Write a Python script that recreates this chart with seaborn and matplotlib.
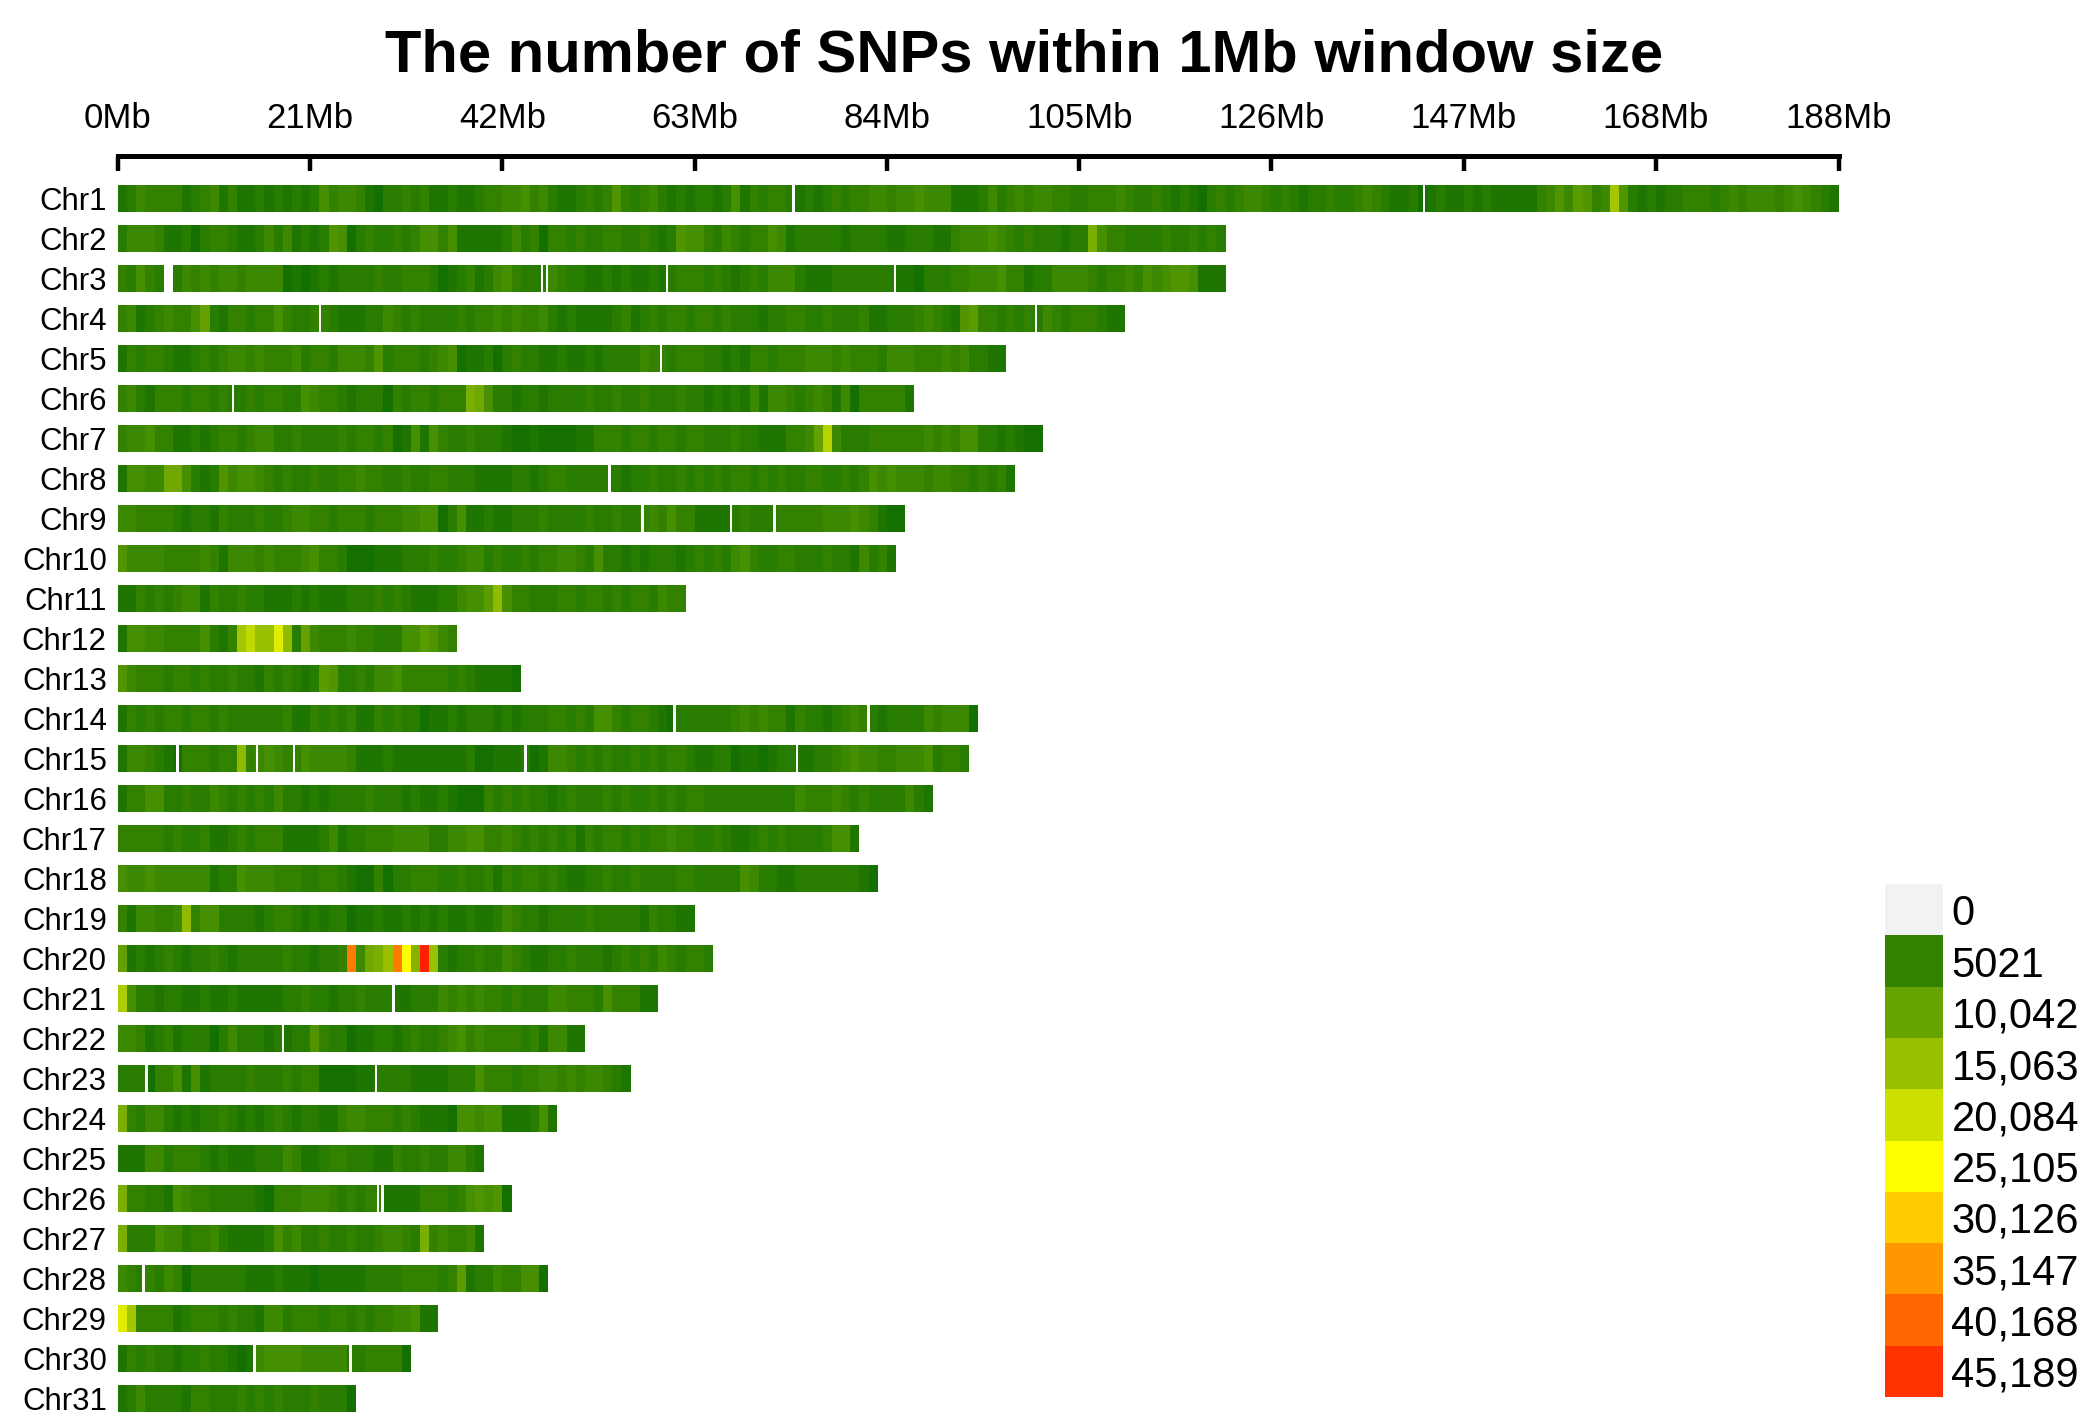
import numpy as np
import matplotlib
matplotlib.use("Agg")
import matplotlib.pyplot as plt
import seaborn as sns
from matplotlib.colors import LinearSegmentedColormap, ListedColormap

# SNP counts per 1 Mb window, one character per window, in thousands of SNPs
# ('0'-'9' = 0-9k, 'a'-'z' = 10k-35k, 'A'-'Z' = 36k-61k)
CODES = "0123456789abcdefghijklmnopqrstuvwxyzABCDEFGHIJKLMNOPQRSTUVWXYZ"

chroms = ["Chr%d" % i for i in range(1, 32)]

density = [
    "3465555345 6353343434 3475665324 4545334334 5566756433 4545854564 3434434735 4554343454 5566566766 6333464565 "
    "6655445556 5445434324 5456654543 4454456543 3423433434 3333356869 856g843434 4555456566 65676543",
    "4666533424 5543346463 4348724544 5457757333 3346452554 5445544543 4877546545 5763444443 4444334443 3566676545 "
    "444344c755 44445445454",
    "5475404656 5665666623 2343444454 4555423453 4675444654 4334343343 4555454345 4666433344 4444433244 4556667553 "
    "4466665455 65767887333",
    "563456557a 4355455754 4554333446 5454444545 5656556434 3333453454 5545545444 3445544544 4533444565 4389554545 "
    "4654555433",
    "3545543345 4566565556 4554666584 5554567233 4245443343 3434444655 4555443435 5455566656 5554666555 6564433",
    "5643555455 4544545544 7655434442 54554555cb 7443443444 4544544544 4544343436 3665456536 2555553",
    "5667553343 4554566445 4444545545 2373754454 4432232222 3355545545 5455444544 333556ai64 4455555565 65774434322",
    "37766bb743 4867765454 4544556554 4544554443 3334434554 4444434454 4545454554 5454455445 4576766656 65545453",
    "6655554344 3544454456 6554555455 5667724733 4334445444 4544544565 7553333454 4455555666 765322",
    "8666655556 5366656555 6755422233 3444544566 4544545566 5474434344 4345454675 4455444544 36453",
    "3354545663 5445443334 3433344454 5433344677 9e75544455 4554545546 55",
    "3776655557 435gjffme4 a655565544 4779865",
    "8655545545 4454435454 3498445466 7555554543 3332",
    "3545455455 4544444453 3545453354 5442334344 4343444554 5477545543 2444444565 6553544345 6543444465 6662",
    "3665432555 455e567655 7666653334 3333333342 2333423665 4545445454 5543344233 2344334456 7665566674 554",
    "3557744544 6545454644 3434444544 4343343222 5454544345 4445454454 5455444444 4444655565 454444643",
    "5555545445 3345455533 3346344555 6666446677 5565454545 3545545455 6554454334 5454444577 3",
    "7667666666 3447666555 4455432252 4455544544 5354554543 3445445444 4554444476 4433444444 432",
    "5366556e57 7444434554 3434423343 3434343343 3465443444 4544444354 433",
    "a343454344 5434444454 43445C6bcf CpdLf43445 4465433445 4443454546 54554",
    "h744344334 3343333344 5443445444 3344465656 5545444665 554755533",
    "6653453444 2464443434 4854423344 3454456756 5555453663 3",
    "4442557373 4444544454 5522223344 4433334447 5554556656 566543",
    "c546643434 4543434543 4433566555 4543332776 77333473",
    "3336645554 3433344465 3345544433 5445446643",
    "c554437655 4444432555 6665454553 3335554578 782",
    "c444766455 6433334756 4454454456 654c565563",
    "6545465244 4444333433 3233333444 4555545934 4655772",
    "mg55553455 5454436645 5545545455 66733",
    "3545443445 4432367777 6666644555 52",
    "3464444355 4445454544 454442",
]

# narrow stretches without SNPs (white lines), position in Mb
gaps = {
    "Chr1": [73.8, 142.7],
    "Chr3": [46.3, 46.9, 60.0, 84.9],
    "Chr4": [22.1, 100.3],
    "Chr5": [59.3],
    "Chr6": [12.6],
    "Chr8": [53.7],
    "Chr9": [57.3, 67.0, 71.7],
    "Chr14": [60.8, 82.0],
    "Chr15": [6.5, 15.2, 19.2, 44.5, 74.2],
    "Chr21": [30.1],
    "Chr22": [18.0],
    "Chr23": [3.1, 28.2],
    "Chr26": [28.4, 28.9],
    "Chr28": [2.8],
    "Chr30": [14.9, 25.4],
}

tick_mb = [0, 21, 42, 63, 84, 105, 126, 147, 168, 188]
legend_breaks = [0, 5021, 10042, 15063, 20084, 25105, 30126, 35147, 40168, 45189]
legend_labels = ["0", "5021", "10,042", "15,063", "20,084", "25,105",
                 "30,126", "35,147", "40,168", "45,189"]

sns.set_theme(style="white")
plt.rcParams["font.family"] = ["Liberation Sans", "DejaVu Sans"]

# darkgreen -> yellow -> red ramp, yellow at 25,105 SNPs
vmax = 2 * legend_breaks[5]
cmap = LinearSegmentedColormap.from_list("snp", ["#006400", "#ffff00", "#ff0000"])

# two rows per chromosome plus one empty spacer row
n_win = max(len(s.replace(" ", "")) for s in density)
mat = np.full((3 * len(chroms) - 1, n_win), np.nan)
for i, s in enumerate(density):
    vals = np.array([CODES.index(c) for c in s.replace(" ", "")], float) * 1000
    vals[vals == 0] = np.nan
    mat[3 * i, :len(vals)] = vals
    mat[3 * i + 1, :len(vals)] = vals

fig = plt.figure(figsize=(20.99, 14.28), dpi=100)
ax = fig.add_axes([0.0562, 0.0114, 0.8199, 0.8590])
sns.heatmap(mat, ax=ax, cmap=cmap, vmin=0, vmax=vmax, cbar=False,
            xticklabels=False, yticklabels=False)

for i, name in enumerate(chroms):
    if name in gaps:
        ax.broken_barh([(p - 0.13, 0.26) for p in gaps[name]], (3 * i, 2),
                       facecolors="white", edgecolors="none")

ax.spines["top"].set_visible(True)
ax.spines["top"].set_color("black")
ax.spines["top"].set_linewidth(3.6)
ax.spines["top"].set_position(("outward", 21))
ax.xaxis.tick_top()
ax.set_xticks(tick_mb)
ax.set_xticklabels(["%dMb" % v for v in tick_mb])
ax.tick_params(axis="x", direction="in", length=11, width=3.2, color="black",
               pad=15, labelsize=25, top=True, bottom=False,
               labeltop=True, labelbottom=False, labelcolor="black")
ax.set_yticks([3 * i + 1 for i in range(len(chroms))])
ax.set_yticklabels(chroms, rotation=0)
ax.tick_params(axis="y", length=0, pad=8, labelsize=22.5, labelcolor="black")
ax.set_xlim(0, n_win)

fig.text(0.488, 0.961, "The number of SNPs within 1Mb window size",
         ha="center", va="center", fontsize=43, fontweight="bold", color="black")

# legend
legend_colors = ["#f2f2f2"] + [cmap(b / vmax) for b in legend_breaks[1:]]
lax = fig.add_axes([0.8981, 0.0217, 0.0276, 0.3592])
sns.heatmap(np.arange(len(legend_breaks)).reshape(-1, 1), ax=lax,
            cmap=ListedColormap(legend_colors), cbar=False,
            xticklabels=False, yticklabels=legend_labels)
lax.yaxis.tick_right()
lax.tick_params(axis="y", length=0, pad=6, labelsize=30, labelcolor="black",
                left=False, right=False)
plt.setp(lax.get_yticklabels(), rotation=0)

fig.savefig("out.png", dpi=100, facecolor="white")
